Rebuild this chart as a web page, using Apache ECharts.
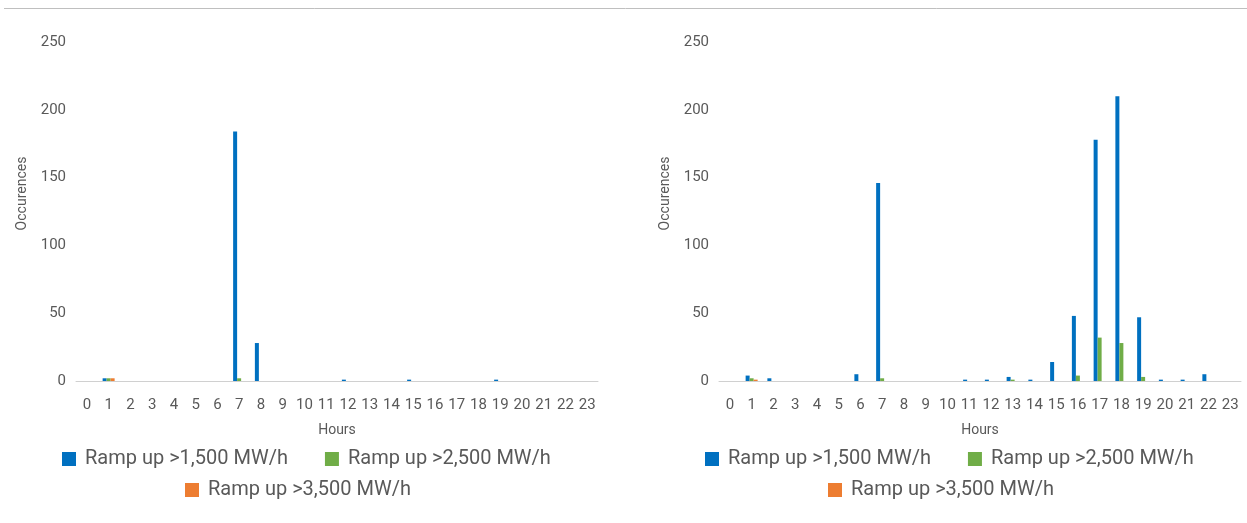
<!DOCTYPE html>
<html>
<head>
<meta charset="utf-8">
<script src="https://cdn.jsdelivr.net/npm/echarts@6/dist/echarts.min.js"></script>
<style>html,body{margin:0;padding:0;background:#fff}#c{width:1247px;height:523px}</style>
</head>
<body>
<div id="c"></div>
<script>
const hours = ['0','1','2','3','4','5','6','7','8','9','10','11','12','13','14','15','16','17','18','19','20','21','22','23'];
const yTicks = [0, 50, 100, 150, 200, 250];
const seriesNames = ['Ramp up >1,500 MW/h', 'Ramp up >2,500 MW/h', 'Ramp up >3,500 MW/h'];
const colors = ['#0070c0', '#70ad47', '#ed7d31'];

// Left chart
const left1500 = [0,2,0,0,0,0,0,184,28,0,0,0,1,0,0,1,0,0,0,1,0,0,0,0];
const left2500 = [0,2,0,0,0,0,0,2,0,0,0,0,0,0,0,0,0,0,0,0,0,0,0,0];
const left3500 = [0,2,0,0,0,0,0,0,0,0,0,0,0,0,0,0,0,0,0,0,0,0,0,0];
// Right chart
const right1500 = [0,4,2,0,0,0,5,146,0,0,0,1,1,3,1,14,48,178,210,47,1,1,5,0];
const right2500 = [0,2,0,0,0,0,0,2,0,0,0,0,0,1,0,0,4,32,28,3,0,0,0,0];
const right3500 = [0,1,0,0,0,0,0,0,0,0,0,0,0,0,0,0,0,0,0,0,0,0,0,0];

const textColor = '#595959';
const fontFam = 'Roboto, "Noto Sans", sans-serif';

function xAxis(gi) {
  return {
    type: 'category', gridIndex: gi, data: hours,
    name: 'Hours', nameLocation: 'middle', nameGap: 42,
    nameTextStyle: {color: textColor, fontSize: 14, fontFamily: fontFam},
    axisLine: {lineStyle: {color: '#d0d0d0', width: 1}},
    axisTick: {show: false},
    axisLabel: {color: textColor, fontSize: 15, fontFamily: fontFam, margin: 17, interval: 0}
  };
}
function yAxis(gi) {
  return {
    type: 'value', gridIndex: gi, min: yTicks[0], max: yTicks[yTicks.length-1], interval: 50,
    name: 'Occurences', nameLocation: 'middle', nameGap: 47, nameRotate: 90,
    nameTextStyle: {color: textColor, fontSize: 14, fontFamily: fontFam, padding: [0, 0, 0, 36]},
    axisLine: {show: false}, axisTick: {show: false}, splitLine: {show: false},
    axisLabel: {color: textColor, fontSize: 15, fontFamily: fontFam, margin: 10}
  };
}
function bar(name, data, gi, ci) {
  return {
    type: 'bar', name: name, data: data, xAxisIndex: gi, yAxisIndex: gi,
    barWidth: 4, barGap: '0%', itemStyle: {color: colors[ci]},
    emphasis: {disabled: true}
  };
}
function legend(left, top, names) {
  return {
    left: left, top: top, data: names, itemWidth: 14, itemHeight: 14, itemGap: 37, padding: 0,
    icon: 'rect', textStyle: {color: textColor, fontSize: 20, fontFamily: fontFam, padding: [0,0,0,4]},
    selectedMode: false
  };
}

const chart = echarts.init(document.getElementById('c'));
chart.setOption({
  animation: false,
  grid: [
    {left: 76, right: 649, top: 42, bottom: 142},
    {left: 719, right: 6, top: 42, bottom: 142}
  ],
  xAxis: [xAxis(0), xAxis(1)],
  yAxis: [yAxis(0), yAxis(1)],
  legend: [
    legend(62, 449, [seriesNames[0], seriesNames[1]]),
    legend(185, 480, [seriesNames[2]]),
    legend(705, 449, [seriesNames[0], seriesNames[1]]),
    legend(828, 480, [seriesNames[2]])
  ],
  graphic: [{
    type: 'line', shape: {x1: 4, y1: 8.5, x2: 1247, y2: 8.5},
    style: {stroke: '#bfbfbf', lineWidth: 1}
  }],
  series: [
    bar(seriesNames[0], left1500, 0, 0),
    bar(seriesNames[1], left2500, 0, 1),
    bar(seriesNames[2], left3500, 0, 2),
    bar(seriesNames[0], right1500, 1, 0),
    bar(seriesNames[1], right2500, 1, 1),
    bar(seriesNames[2], right3500, 1, 2)
  ]
});
</script>
</body>
</html>
